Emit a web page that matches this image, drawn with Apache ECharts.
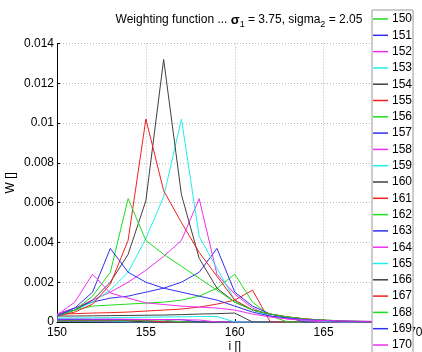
<!DOCTYPE html>
<html>
<head>
<meta charset="utf-8">
<script src="https://cdn.jsdelivr.net/npm/echarts@6/dist/echarts.min.js"></script>
<style>html,body{margin:0;padding:0;background:#fff;}#c{width:422px;height:352px;}</style>
</head>
<body>
<div id="c"></div>
<script>
// x positions i = 150..170
const iVals = [150,151,152,153,154,155,156,157,158,159,160,161,162,163,164,165,166,167,168,169,170];
const seriesNames = ['150','151','152','153','154','155','156','157','158','159','160','161','162','163','164','165','166','167','168','169','170'];
const xTicks = [150,155,160,165,170];
const yTicks = [0,0.002,0.004,0.006,0.008,0.01,0.012,0.014];

// weighting function values W(i) for each legend entry
const w150 = [0.00002,0,0,0,0,0,0,0,0,0,0,0,0,0,0,0,0,0,0,0,0];
const w151 = [0.00003,0.00003,0,0,0,0,0,0,0,0,0,0,0,0,0,0,0,0,0,0,0];
const w152 = [0.00004,0.00004,0.00004,0,0,0,0,0,0,0,0,0,0,0,0,0,0,0,0,0,0];
const w153 = [0.00005,0.00005,0.00005,0.00005,0,0,0,0,0,0,0,0,0,0,0,0,0,0,0,0,0];
const w154 = [0.00006,0.00006,0.00006,0.00006,0.00006,0,0,0,0,0,0,0,0,0,0,0,0,0,0,0,0];
const w155 = [0.00008,0.00008,0.00008,0.00008,0.00008,0.00008,0,0,0,0,0,0,0,0,0,0,0,0,0,0,0];
const w156 = [0.0001,0.0001,0.0001,0.0001,0.0001,0.0001,0.0001,0,0,0,0,0,0,0,0,0,0,0,0,0,0];
const w157 = [0.00012,0.00012,0.00012,0.00012,0.00012,0.00012,0.00012,0.00012,0,0,0,0,0,0,0,0,0,0,0,0,0];
const w158 = [0.00016,0.00016,0.00015,0.00015,0.00014,0.00013,0.00012,0.00011,0.0001,0,0,0,0,0,0,0,0,0,0,0,0];
const w159 = [0.0002,0.0002,0.00021,0.00022,0.00023,0.00024,0.00025,0.00026,0.00027,0.00028,0,0,0,0,0,0,0,0,0,0,0];
const w160 = [0.0003,0.0003,0.00031,0.00032,0.00033,0.00034,0.00035,0.00037,0.0004,0.00042,0.00045,0,0,0,0,0,0,0,0,0,0];
const w161 = [0.0004,0.00042,0.00045,0.00047,0.0005,0.00055,0.0006,0.00065,0.00075,0.0009,0.0011,0.0016,0,0,0,0,0,0,0,0,0];
const w162 = [0.0004,0.0006,0.0008,0.00085,0.0009,0.00095,0.001,0.0011,0.0013,0.0017,0.0024,0.001,0.0003,0,0,0,0,0,0,0,0];
const w163 = [0.0004,0.0007,0.001,0.0012,0.0013,0.0015,0.0017,0.002,0.0025,0.0037,0.0015,0.0008,0.0004,0.0002,0,0,0,0,0,0,0];
const w164 = [0.0004,0.0007,0.0011,0.0015,0.002,0.0026,0.0033,0.0041,0.0062,0.0024,0.0014,0.0007,0.0003,0.00015,0.00008,0,0,0,0,0,0];
const w165 = [0.0003,0.0006,0.001,0.0016,0.0025,0.0042,0.0063,0.0102,0.0043,0.0027,0.0011,0.0006,0.0003,0.0002,0.0001,0.00005,0,0,0,0,0];
const w166 = [0.0003,0.0006,0.0011,0.002,0.0034,0.0061,0.0132,0.0064,0.0032,0.0017,0.001,0.0006,0.0004,0.00025,0.00015,0.00008,0.00003,0,0,0,0];
const w167 = [0.0003,0.0005,0.0009,0.0019,0.0041,0.0102,0.0066,0.005,0.0035,0.0023,0.0011,0.0006,0.0004,0.00025,0.00015,0.0001,0.00005,0.00002,0,0,0];
const w168 = [0.0003,0.0006,0.0013,0.0025,0.0062,0.0041,0.0034,0.0028,0.0022,0.0016,0.001,0.0006,0.0004,0.00025,0.00015,0.0001,0.00006,0.00004,0.00002,0,0];
const w169 = [0.0003,0.0007,0.0015,0.0037,0.0025,0.002,0.0017,0.0015,0.0013,0.0011,0.0008,0.0005,0.0003,0.0002,0.00012,0.00008,0.00005,0.00003,0.00002,0.00001,0];
const w170 = [0.00035,0.001,0.0024,0.00146,0.0012,0.00096,0.00088,0.0008,0.00075,0.0007,0.0006,0.0004,0.00025,0.00015,0.0001,0.00007,0.00005,0.00004,0.00003,0.00002,0.00002];

const allW = [w150,w151,w152,w153,w154,w155,w156,w157,w158,w159,w160,w161,w162,w163,w164,w165,w166,w167,w168,w169,w170];
const palette = ['#1fdd1f','#3030ee','#ee30ee','#20eeee','#404040','#ee2020'];

const series = allW.map((vals, k) => ({
  name: seriesNames[k],
  type: 'line',
  data: iVals.map((x, j) => [x, vals[j]]),
  showSymbol: false,
  symbol: 'none',
  lineStyle: { width: 1, color: palette[k % 6] },
  itemStyle: { color: palette[k % 6] },
  emphasis: { disabled: true },
  animation: false
}));

const font = 'Liberation Sans, Arial, sans-serif';
const chart = echarts.init(document.getElementById('c'), null, { renderer: 'canvas' });
chart.setOption({
  animation: false,
  backgroundColor: '#fff',
  title: {
    text: 'Weighting function ... {g|σ}{sub|1} = 3.75, sigma{sub|2} = 2.05',
    left: 234, top: 6, textAlign: 'center',
    textStyle: {
      fontSize: 12, fontWeight: 'normal', color: '#000', fontFamily: font,
      rich: {
        g: { fontSize: 13, fontWeight: 'bold', color: '#000', fontFamily: font },
        sub: { fontSize: 9, color: '#000', fontFamily: font, padding: [9, 0, 0, 0] }
      }
    }
  },
  grid: { left: 57, right: 9.5, top: 43.5, bottom: 30, containLabel: false, outerBoundsMode: 'none' },
  xAxis: {
    type: 'value', min: xTicks[0], max: xTicks[xTicks.length - 1], interval: 5,
    name: 'i []', nameLocation: 'middle', nameGap: 19, nameMoveOverlap: false,
    nameTextStyle: { fontSize: 12, color: '#000', fontFamily: font },
    axisLine: { show: true, onZero: false, lineStyle: { color: '#000', width: 1 } },
    axisTick: { show: true, inside: true, length: 3, lineStyle: { color: '#000' } },
    axisLabel: { fontSize: 12, color: '#000', fontFamily: font, margin: 5, showMaxLabel: true, showMinLabel: true, hideOverlap: false },
    splitLine: { show: true, lineStyle: { color: '#b8b8b8', type: [1, 2], width: 1 } }
  },
  yAxis: {
    type: 'value', min: yTicks[0], max: yTicks[yTicks.length - 1], interval: 0.002,
    name: 'W []', nameLocation: 'middle', nameGap: 40, nameRotate: 90, nameMoveOverlap: false,
    nameTextStyle: { fontSize: 12, color: '#000', fontFamily: font },
    axisLine: { show: true, onZero: false, lineStyle: { color: '#000', width: 1 } },
    axisTick: { show: true, inside: true, length: 3, lineStyle: { color: '#000' } },
    axisLabel: { fontSize: 12, color: '#000', fontFamily: font, margin: 3,
      formatter: v => String(+v.toFixed(3)) },
    splitLine: { show: true, lineStyle: { color: '#b8b8b8', type: [1, 2], width: 1 } }
  },
  legend: {
    type: 'plain',
    orient: 'vertical', left: 372, top: 10, height: 500,
    padding: [2, 1, 20, 1],
    itemWidth: 15, itemHeight: 1.5, itemGap: 2.3, icon: 'rect',
    backgroundColor: '#fff', borderColor: '#999', borderWidth: 1,
    textStyle: { fontSize: 12, color: '#000', fontFamily: font, lineHeight: 14, padding: [0, 0, 0, -1] },
    data: seriesNames,
    selectedMode: false,
    z: 10
  },
  series: series
});
</script>
</body>
</html>
